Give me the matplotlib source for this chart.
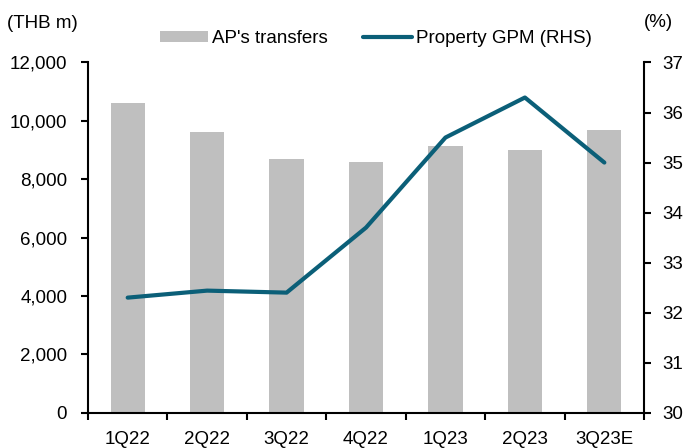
import matplotlib
matplotlib.use('Agg')
import matplotlib.pyplot as plt
import numpy as np

plt.rcParams['font.family'] = ['Liberation Sans', 'DejaVu Sans']
plt.rcParams['font.size'] = 13.5

quarters = ['1Q22', '2Q22', '3Q22', '4Q22', '1Q23', '2Q23', '3Q23E']
transfers = [10620, 9615, 8680, 8590, 9140, 9000, 9680]   # THB m
gpm = [32.30, 32.44, 32.40, 33.70, 35.50, 36.30, 35.00]   # %

bar_color = '#BFBFBF'
line_color = '#0B5F78'

fig = plt.figure(figsize=(6.83, 4.48), dpi=100)
ax = fig.add_axes([0.1288, 0.0788, 0.8142, 0.7817])
ax2 = ax.twinx()

x = np.arange(len(quarters))
ax.bar(x, transfers, width=0.43, color=bar_color, label="AP's transfers", zorder=2)
ax2.plot(x, gpm, color=line_color, linewidth=3, label='Property GPM (RHS)',
         solid_capstyle='round', zorder=3)

ax.set_xlim(-0.5, len(quarters) - 0.5)
ax.set_ylim(0, 12000)
ax.set_yticks(range(0, 12001, 2000))
ax.set_yticklabels([f'{v:,}' for v in range(0, 12001, 2000)])
ax2.set_ylim(30, 37)
ax2.set_yticks(range(30, 38))

# ticks between categories on x
ax.set_xticks(x)
ax.set_xticklabels(quarters)
ax.set_xticks(np.arange(-0.5, len(quarters), 1), minor=True)
ax.tick_params(axis='x', which='major', length=0, pad=13)
ax.tick_params(axis='x', which='minor', length=5, width=1.5, direction='out')

ax.tick_params(axis='y', length=5, width=1.5, pad=10)
ax2.tick_params(axis='y', length=5, width=1.5, pad=8)

for a in (ax, ax2):
    a.spines['top'].set_visible(False)
    for s in ('left', 'right', 'bottom'):
        a.spines[s].set_linewidth(1.5)
ax2.spines['left'].set_visible(False)
ax2.spines['bottom'].set_visible(False)
ax.spines['right'].set_visible(False)

fig.text(0.010, 0.948, '(THB m)', ha='left', va='center')
fig.text(0.985, 0.95, '(%)', ha='right', va='center')

h1, l1 = ax.get_legend_handles_labels()
h2, l2 = ax2.get_legend_handles_labels()
fig.legend(h1 + h2, l1 + l2, loc='center', bbox_to_anchor=(0.55, 0.913), ncol=2,
           frameon=False, handlelength=2.6, handleheight=0.5, handletextpad=0.2,
           columnspacing=1.9, borderaxespad=0)

fig.savefig('out.png', dpi=100)
